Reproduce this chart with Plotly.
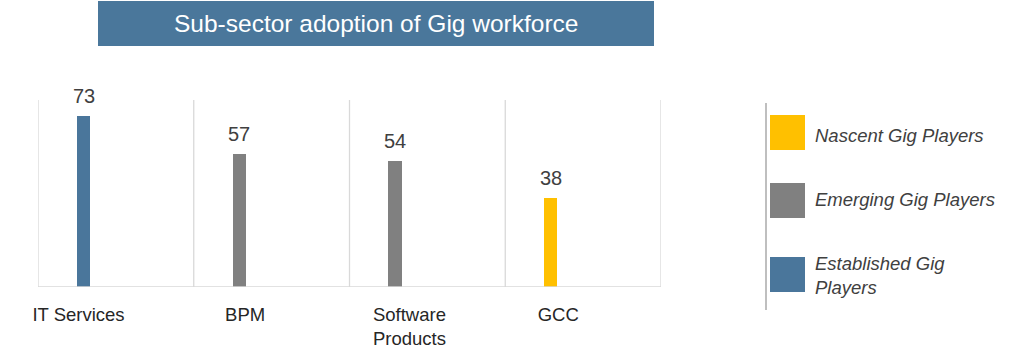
import plotly.graph_objects as go

categories = ["IT Services", "BPM", "Software Products", "GCC"]
tick_labels = ["IT Services", "BPM", "Software<br>Products", "GCC"]
values = [73, 57, 54, 38]
tiers = ["Established Gig Players", "Emerging Gig Players", "Emerging Gig Players", "Nascent Gig Players"]
legend_order = ["Nascent Gig Players", "Emerging Gig Players", "Established Gig Players"]
legend_text = ["Nascent Gig Players", "Emerging Gig Players", "Established Gig<br>Players"]
tier_colors = {"Nascent Gig Players": "#FFC000",
               "Emerging Gig Players": "#808080",
               "Established Gig Players": "#4A769B"}
title_text = "Sub-sector adoption of Gig workforce"

W, H = 1024, 360
FONT = "Liberation Sans, Arial, sans-serif"
def px(x): return x / W
def py(y): return 1 - y / H

bar_offset = -0.25
bar_width = 0.085
label_pos = [-0.24, 0.83, 1.885, 2.84]

fig = go.Figure()
fig.add_trace(go.Bar(
    x=categories, y=values,
    marker=dict(color=[tier_colors[t] for t in tiers], line=dict(width=0)),
    offset=bar_offset, width=bar_width,
    showlegend=False, hoverinfo="x+y",
))

annotations = []
for i, v in enumerate(values):
    annotations.append(dict(x=i + bar_offset + bar_width / 2, y=v, xref="x", yref="y",
                            text=str(v), showarrow=False, yanchor="middle", yshift=20,
                            font=dict(family=FONT, size=20, color="#404040")))

shapes = []
# vertical grid lines at category boundaries
for i in range(len(categories) + 1):
    shapes.append(dict(type="line", xref="x", yref="y", x0=i - 0.5, x1=i - 0.5, y0=0, y1=80,
                       line=dict(color="#D9D9D9", width=1.3), layer="below"))

# title box
shapes.append(dict(type="rect", xref="paper", yref="paper", x0=px(98), x1=px(654), y0=py(46), y1=py(1),
                   fillcolor="#4A779B", line=dict(width=0)))
annotations.append(dict(x=px(376), y=py(23), xref="paper", yref="paper", text=title_text,
                        showarrow=False, font=dict(family=FONT, size=24.5, color="white"),
                        xanchor="center", yanchor="middle"))

# legend
shapes.append(dict(type="line", xref="paper", yref="paper", x0=px(766), x1=px(766), y0=py(310), y1=py(103),
                   line=dict(color="#BFBFBF", width=2)))
sq_tops = [115, 183, 257]
text_y = [135, 199, 275]
for t, lab, top, ty in zip(legend_order, legend_text, sq_tops, text_y):
    shapes.append(dict(type="rect", xref="paper", yref="paper", x0=px(770), x1=px(805),
                       y0=py(top + 35), y1=py(top), fillcolor=tier_colors[t], line=dict(width=0)))
    annotations.append(dict(x=px(813), y=py(ty), xref="paper", yref="paper", text="<i>" + lab + "</i>",
                            showarrow=False, xanchor="left", yanchor="middle", align="left",
                            font=dict(family=FONT, size=18.5, color="#404040")))

fig.update_layout(
    width=W, height=H, autosize=False,
    margin=dict(l=0, r=0, t=0, b=0, pad=0, autoexpand=False),
    paper_bgcolor="white", plot_bgcolor="white",
    xaxis=dict(domain=[px(38), px(661)], type="category", range=[-0.5, 3.5],
               showgrid=False, zeroline=False, showline=False, automargin=False,
               tickmode="array", tickvals=label_pos, ticktext=tick_labels,
               ticks="", ticklabelstandoff=14,
               tickfont=dict(family=FONT, size=18.5, color="#262626")),
    yaxis=dict(domain=[py(287), py(100)], range=[0, 80], showgrid=False, zeroline=False,
               showline=False, showticklabels=False, ticks="", automargin=False),
    shapes=shapes + [dict(type="line", xref="paper", yref="y", x0=px(38), x1=px(661), y0=0, y1=0,
                          line=dict(color="#D9D9D9", width=1.5))],
    annotations=annotations,
    bargap=0,
)

fig.write_html("out.html")
